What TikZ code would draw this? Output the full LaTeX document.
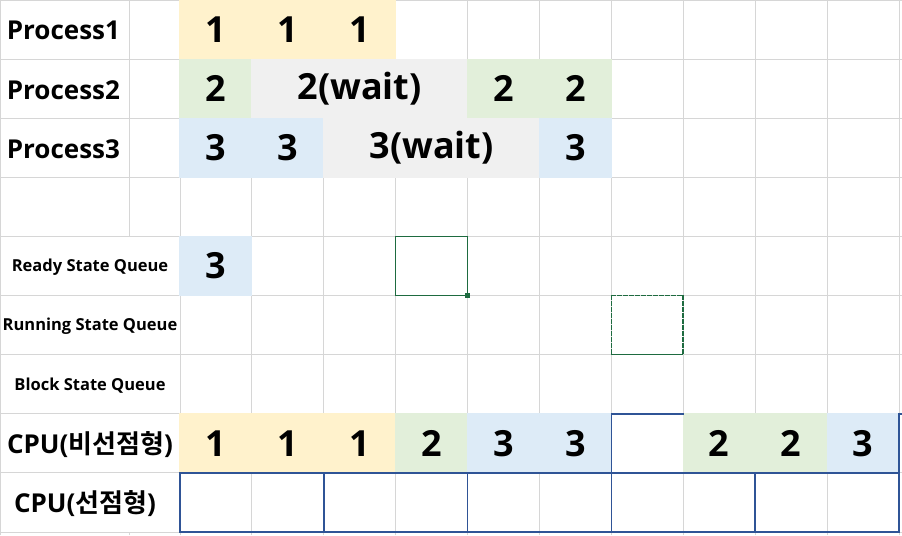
\documentclass[tikz,border=0pt]{standalone}
\usepackage{fontspec}
\setmainfont{Open Sans}
\newfontfamily\kr{Noto Sans CJK KR}[BoldFont={Noto Sans CJK KR Bold}]
\usepackage{tikz}
\usetikzlibrary{positioning}
\definecolor{gridgray}{HTML}{D6D6D6}
\definecolor{pyellow}{HTML}{FFF2CC}
\definecolor{pgreen}{HTML}{E2EFDA}
\definecolor{pblue}{HTML}{DDEBF7}
\definecolor{pwait}{HTML}{F0F0F0}
\definecolor{selgreen}{HTML}{1E6B40}
\definecolor{cpublue}{HTML}{2F5496}
\tikzstyle{every node}=[font=\bfseries]
\tikzstyle{every path}=[line cap=rect,line join=miter]
\tikzstyle{gridline}=[draw=gridgray,line width=0.8pt]
\tikzstyle{cell}=[inner sep=0pt,outer sep=0pt,minimum width=72.9pt,minimum height=60.1pt,font=\bfseries\fontsize{36}{36}\selectfont]
\tikzstyle{rowlabel}=[inner sep=0pt,font=\bfseries\fontsize{26}{26}\selectfont]
\tikzstyle{queuelabel}=[inner sep=0pt,font=\bfseries\fontsize{16.5}{16.5}\selectfont]
\tikzstyle{cpuline}=[draw=cpublue,line width=1.6pt]
\tikzstyle{selbox}=[draw=selgreen,line width=1.4pt]

\begin{document}
\begin{tikzpicture}[x=71.9pt,y=-59.11pt]
\useasboundingbox (-2.503,0) rectangle (10.042,9.051);
% sheet grid
\foreach \r in {0,...,9} \draw[gridline] (-2.503,\r)--(10.042,\r);
\foreach \k in {0,...,10} \draw[gridline] (\k,0)--(\k,9.051);
\draw[gridline] (-2.496,0)--(-2.496,9.051);
\draw[gridline] (-0.709,0)--(-0.709,4) (-0.709,9)--(-0.709,9.051);
% process rows
\node[rowlabel,anchor=west] (lp1) at (-2.41,0.52) {Process1};
\node[rowlabel,anchor=west] (lp2) at (-2.41,1.52) {Process2};
\node[rowlabel,anchor=west] (lp3) at (-2.41,2.52) {Process3};
\foreach \k in {0,1,2} \node[cell,fill=pyellow] (pa\k) at (\k+0.5,0.5) {1};
\node[cell,fill=pgreen] (pb0) at (0.5,1.5) {2};
\node[cell,fill=pwait,minimum width=216.7pt] (pbw) at (2.5,1.5) {2(wait)};
\foreach \k in {4,5} \node[cell,fill=pgreen] (pb\k) at (\k+0.5,1.5) {2};
\foreach \k in {0,1} \node[cell,fill=pblue] (pc\k) at (\k+0.5,2.5) {3};
\node[cell,fill=pwait,minimum width=216.7pt] (pcw) at (3.5,2.5) {3(wait)};
\node[cell,fill=pblue] (pc5) at (5.5,2.5) {3};
% queues
\node[queuelabel] (qready) at (-1.251,4.52) {Ready State Queue};
\node[queuelabel] (qrun) at (-1.251,5.52) {Running State Queue};
\node[queuelabel] (qblock) at (-1.251,6.52) {Block State Queue};
\node[cell,fill=pblue] (qr0) at (0.5,4.5) {3};
\draw[selbox] (3,4) rectangle (4,5);
\fill[selgreen] (4,5) ++(-2.5pt,-2.5pt) rectangle ++(5pt,5pt);
\draw[selbox,line width=1.6pt,dash pattern=on 4pt off 2pt] (6,5) rectangle (7,6);
% cpu rows
\node[rowlabel] (cpun) at (-1.251,7.52) {CPU({\kr 비선점형})};
\node[rowlabel] (cpup) at (-1.320,8.52) {CPU({\kr 선점형})};
\foreach \k in {0,1,2} \node[cell,fill=pyellow] (ca\k) at (\k+0.5,7.5) {1};
\node[cell,fill=pgreen] (ca3) at (3.5,7.5) {2};
\foreach \k in {4,5} \node[cell,fill=pblue] (ca\k) at (\k+0.5,7.5) {3};
\node[cell,fill=white] (ca6) at (6.5,7.5) {};
\foreach \k in {7,8} \node[cell,fill=pgreen] (ca\k) at (\k+0.5,7.5) {2};
\node[cell,fill=pblue] (ca9) at (9.5,7.5) {3};
\fill[white] (0,8) rectangle (10,9);
\foreach \k in {1,3,5,7,9} \draw[gridline] (\k,8)--(\k,9);
%
\draw[cpuline] (0,8) rectangle (10,9);
\foreach \k in {2,4,6,8} \draw[cpuline] (\k,8)--(\k,9);
\draw[cpuline] (6,8)--(6,7)--(7,7) (10,8)--(10,7)--(10.042,7);
\end{tikzpicture}
\end{document}
